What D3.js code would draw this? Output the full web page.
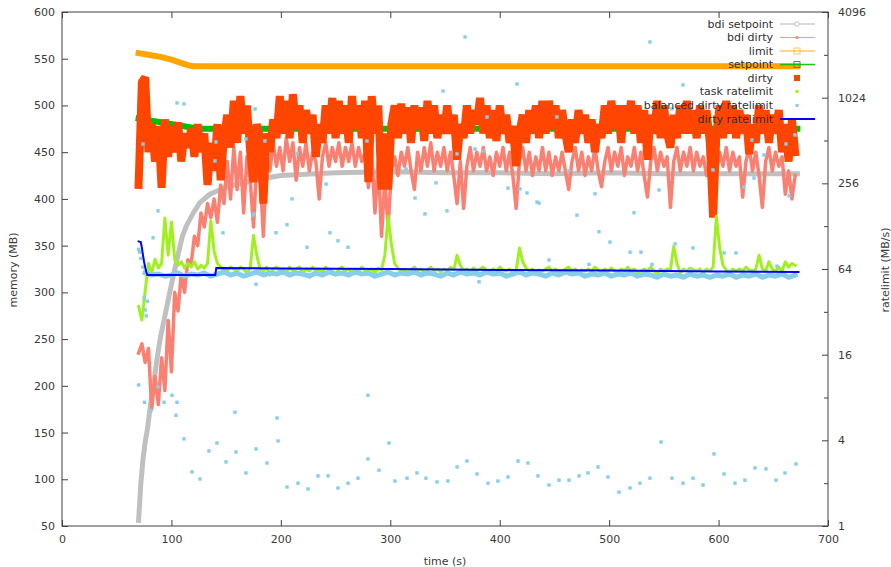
<!DOCTYPE html>
<html><head><meta charset="utf-8">
<script src="https://cdn.jsdelivr.net/npm/d3@7"></script>
<style>body{margin:0;background:#fff} text{font-family:"DejaVu Sans",sans-serif}</style>
</head><body><svg id="c" width="891" height="567"></svg>
<script>
// ---------- tick labels ----------
const xTicks = [0,100,200,300,400,500,600,700];
const yTicks = [50,100,150,200,250,300,350,400,450,500,550,600];
const y2Ticks = [1,4,16,64,256,1024,4096];
const y2Minor = [2,8,32,128,512,2048];
const seriesNames = ["bdi setpoint","bdi dirty","limit","setpoint","dirty","task ratelimit","balanced dirty ratelimit","dirty ratelimit"];

// ---------- sampled series (t = sampleStart + i*sampleStep seconds) ----------
const sampleStart = 70, sampleStep = 3;
const dirty = [
 415,525,530,450,480,440,478,412,485,445,
 478,450,482,440,470,455,475,445,480,450,
 470,415,460,430,480,420,465,490,455,505,
 460,510,470,500,450,418,480,465,395,470,
 450,485,465,510,470,505,465,512,475,500,
 460,495,470,490,445,480,460,500,470,508,
 465,505,470,500,460,510,475,500,465,505,
 418,510,470,500,410,470,410,480,500,465,
 502,470,498,460,500,475,498,462,505,470,
 500,465,490,470,500,470,490,442,480,465,
 500,470,495,480,508,470,500,465,495,462,
 500,470,490,460,478,435,470,490,460,495,
 470,500,465,505,470,505,475,500,465,495,
 470,450,485,460,495,470,490,460,485,450,
 480,465,500,470,505,475,500,460,500,475,
 505,470,500,460,495,442,490,470,505,465,
 500,470,455,490,465,500,470,505,470,495,
 465,500,470,495,460,380,470,500,465,505,
 470,500,465,495,470,490,448,480,460,500,
 470,495,460,490,470,495,450,480,440,485,
 450];
const bdiDirty = [
 235,245,225,240,175,210,180,230,195,270,
 215,300,280,320,300,335,330,360,350,385,
 370,395,380,400,375,415,395,440,400,455,
 410,450,385,445,420,370,440,430,360,445,
 430,460,435,455,430,465,440,460,420,455,
 435,460,430,450,440,400,445,460,435,455,
 440,460,435,455,440,460,435,455,440,450,
 412,450,385,440,360,420,370,430,445,425,
 450,435,455,430,410,450,430,455,435,460,
 430,450,435,455,430,450,425,395,440,390,
 435,455,430,450,435,455,430,445,425,450,
 435,455,430,450,425,390,440,455,430,450,
 425,445,430,455,430,450,425,445,430,450,
 430,410,440,455,430,450,425,445,430,455,
 430,413,440,455,430,450,435,455,425,445,
 435,455,430,450,425,402,440,455,430,450,
 435,445,391,440,455,430,450,435,455,430,
 450,435,445,425,440,385,430,450,435,455,
 430,450,435,445,402,440,455,430,450,425,
 391,440,455,430,450,435,445,405,430,400,
 425];
const taskRatelimit = [
 35,28,45,70,60,75,65,70,146,80,
 137,75,68,72,65,70,66,72,64,68,
 65,70,140,85,70,66,64,62,66,64,
 62,66,64,60,65,110,80,64,62,66,
 58,64,66,62,64,60,66,62,64,66,
 60,64,62,66,62,64,60,66,63,62,
 58,64,66,62,64,60,64,62,66,63,
 62,64,60,65,63,80,150,95,70,65,
 62,64,60,63,66,62,64,60,63,66,
 62,64,61,64,62,66,63,80,68,62,
 64,60,65,62,64,66,62,60,64,62,
 66,63,62,64,60,62,90,72,65,62,
 64,60,63,62,64,66,62,64,60,62,
 64,66,62,64,60,63,62,64,62,66,
 63,60,64,62,65,62,60,64,62,66,
 62,64,60,62,64,62,66,62,58,64,
 62,64,63,92,70,60,64,62,65,63,
 62,64,60,64,62,66,150,90,68,63,
 60,64,62,64,62,66,63,62,64,80,
 64,62,72,64,62,66,62,72,66,70,
 68];
// balanced dirty ratelimit main band (t = bandStart + i*bandStep)
const bandStart = 76, bandStep = 6;
const balancedBand = [
 60,58,59,57,58,60,57,59,58,60,57,59,61,58,60,57,59,61,58,60,
 59,61,58,60,59,57,60,58,61,59,60,58,61,59,60,57,59,61,58,60,
 59,61,58,60,59,57,60,58,61,59,60,58,61,59,60,57,59,61,58,60,
 59,57,60,58,61,59,60,57,59,58,60,57,59,58,60,57,59,58,56,59,
 57,58,56,59,57,58,56,58,57,59,56,58,57,59,56,58,57,59,56,58];
// balanced dirty ratelimit scattered samples
const balT = [70,71,72,74,75,76,77,78,
 70,75.4,81.3,87.7,93.2,100.5,105.1,104.2,111.5,118.8,126.1,134.3,141.6,149.9,158.1,159,168.1,177.3,187.3,196.5,197.4,205.6,
 215.7,224.8,233.9,243.1,252.2,261.4,270.5,279.6,279.6,289.7,298.8,304.3,315.3,324.4,332.6,342.7,352.7,361,370.1,379.2,
 389.3,398.4,407.6,416.7,425.8,435,445,454.2,463.3,472.5,480.7,489.8,498.9,509,519.1,528.2,537.3,547.4,557.4,567.5,
 576.6,585.8,595.8,605,615,624.1,633.3,643.3,652.5,660.7,670.8,
 105.1,111.5,74,140.7,139.8,168.1,176.4,175.5,87.7,83.2,147.1,185.5,214.7,241.3,210.2,205.6,174.5,278.7,415.8,348.2,
 388.4,452.3,361,377.4,384.7,314.4,341.8,463.3,322.6,407.6,418.5,424.9,434.1,487.1,331.7,351.8,470.6,567.5,557.4,630.5,
 641.5,661.6,669.8,594.9,632.4,623.2,664.4,545.6,522.7,368.3,537.3,195.6,244.9,252.2,261.4,223.9,435.9,490.7,500.8,519.1,
 529.1,560.2,576.6,605,615.9,445,481.6,653.4,381.1,177.3,539.2];
const balV = [88,84,76,66,40,33,30,38,
 9.8,7.4,6.5,9.5,7.4,8.3,7.4,6.0,4.1,2.4,2.14,3.37,3.83,2.82,6.3,3.31,2.36,3.48,2.77,5.74,3.96,1.88,
 2.0,1.82,2.25,2.25,1.85,2.0,2.17,8.3,2.96,2.47,3.83,2.07,2.17,2.36,2.17,2.04,2.07,2.6,2.86,2.32,
 2.0,2.07,2.21,2.86,2.77,2.25,1.94,2.1,2.1,2.25,2.36,2.6,2.21,1.73,1.85,2.0,2.17,3.89,2.17,2.0,
 2.17,1.94,3.21,2.32,2.0,2.1,2.56,2.52,2.1,2.36,2.73,
 940,925,484,500,368,525,853,156,164,106,115,508,412,253,199,131,153,508,1278,1140,
 749,749,412,446,432,323,258,313,202,237,234,219,189,216,156,164,153,1259,853,516,
 405,484,560,318,279,241,209,230,159,2735,2522,115,115,101,91,91,186,117,99,84,
 84,96,90,83,83,74,69,67,52,50,69];

// ---------- irregular series ----------
const bdiSetT = [70,72,74,76,78,80,83,87,90,95,99,105,110,114,120,126,135,151,175,200,250,300,350,400,450,500,550,600,650,672];
const bdiSetV = [56,95,121,140,153,172,196,230,252,280,303,335,360,372,385,396,405,413,420,425,428,429,428,428,427,428,427,427,427,427];
const limitT = [70,80,90,100,110,115,120,672];
const limitV = [556,554,552,549,545,543,542,542];
const setpointT = [70,90,110,125,140,672];
const setpointV = [486,482,478,475,475,475];
const dirtyRateT = [70,72,73,74,75,76,77,78,140,141,200,300,400,500,550,600,673];
const dirtyRateV = [100,99,90,80,72,66,61,58,58,65,64.5,64,63,62.5,62,61.5,61];

// ---------- layout ----------
const svg = d3.select("#c");
const L = 62, R = 828, T = 12, B = 526;
const x = d3.scaleLinear().domain([0,700]).range([L,R]);
const y = d3.scaleLinear().domain([50,600]).range([B,T]);
const y2 = d3.scaleLog().base(2).domain([1,4096]).range([B,T]);

const zip = (ts, vs) => vs.map((v,i)=>[ts[i], v]);
const sampled = (start, step, vs) => vs.map((v,i)=>[start + i*step, v]);

svg.append("clipPath").attr("id","clip").append("rect")
  .attr("x",L).attr("y",T).attr("width",R-L).attr("height",B-T);
const g = svg.append("g").attr("clip-path","url(#clip)");

const lineL = d3.line().x(d=>x(d[0])).y(d=>y(d[1]));
const lineR = d3.line().x(d=>x(d[0])).y(d=>y2(d[1]));

function path(data, gen, color, w, join){
  g.append("path").datum(data).attr("d", gen).attr("fill","none")
    .attr("stroke", color).attr("stroke-width", w)
    .attr("stroke-linejoin", join||"round").attr("stroke-linecap","square");
}

const C = {bdiSet:"#c0c0c0", bdiDirty:"#fa8072", limit:"#ffa500", setpoint:"#00c000",
           dirty:"#ff4500", task:"#a0f020", bal:"#87ceeb", rate:"#0000ff"};

path(zip(bdiSetT,bdiSetV), lineL, C.bdiSet, 5);
path(sampled(sampleStart,sampleStep,bdiDirty), lineL, C.bdiDirty, 3.5);
path(zip(limitT,limitV), lineL, C.limit, 6);
path(zip(setpointT,setpointV), lineL, C.setpoint, 6);
path(sampled(sampleStart,sampleStep,dirty), lineL, C.dirty, 8, "bevel");
path(sampled(sampleStart,sampleStep,taskRatelimit), lineR, C.task, 3);
path(sampled(bandStart,bandStep,balancedBand), lineR, C.bal, 5);
g.selectAll("rect.bal").data(zip(balT,balV)).join("rect").attr("class","bal")
  .attr("x",d=>x(d[0])-1.7).attr("y",d=>y2(d[1])-1.7).attr("width",3.4).attr("height",3.4)
  .attr("fill",C.bal);
path(zip(dirtyRateT,dirtyRateV), lineR, C.rate, 2, "miter");

// ---------- axes ----------
const axisColor = "#404040", textColor = "#3a3a3a";
function styleAxis(sel){
  sel.select(".domain").remove();
  sel.selectAll(".tick line").attr("stroke",axisColor);
  sel.selectAll(".tick text").attr("fill",textColor).attr("font-size",11).attr("font-family","DejaVu Sans");
}
svg.append("g").attr("transform",`translate(0,${B})`)
  .call(d3.axisBottom(x).tickValues(xTicks).tickSizeInner(-6).tickSizeOuter(0).tickPadding(9))
  .call(styleAxis);
svg.append("g").attr("transform",`translate(0,${T})`)
  .call(d3.axisTop(x).tickValues(xTicks).tickSizeInner(-6).tickSizeOuter(0).tickFormat(""))
  .call(styleAxis);
svg.append("g").attr("transform",`translate(${L},0)`)
  .call(d3.axisLeft(y).tickValues(yTicks).tickSizeInner(-6).tickSizeOuter(0).tickPadding(7))
  .call(styleAxis);
svg.append("g").attr("transform",`translate(${R},0)`)
  .call(d3.axisRight(y2).tickValues(y2Ticks).tickFormat(d3.format("d")).tickSizeInner(-6).tickSizeOuter(0).tickPadding(10))
  .call(styleAxis);
svg.append("g").attr("transform",`translate(${R},0)`)
  .call(d3.axisRight(y2).tickValues(y2Minor).tickFormat("").tickSizeInner(-4).tickSizeOuter(0))
  .call(styleAxis);
svg.append("rect").attr("x",L).attr("y",T).attr("width",R-L).attr("height",B-T)
  .attr("fill","none").attr("stroke",axisColor).attr("stroke-width",1);

svg.append("text").attr("x",445).attr("y",565).attr("text-anchor","middle")
  .attr("font-size",11).attr("fill",textColor).text("time (s)");
svg.append("text").attr("transform","translate(17,270) rotate(-90)").attr("text-anchor","middle")
  .attr("font-size",11).attr("fill",textColor).text("memory (MB)");
svg.append("text").attr("transform","translate(889,270) rotate(-90)").attr("text-anchor","middle")
  .attr("font-size",11).attr("fill",textColor).text("ratelimit (MB/s)");

// ---------- legend ----------
const legY = [24,37.5,51,64.5,78,91.5,105.5,119];
const lg = svg.append("g");
seriesNames.forEach((name,i)=>{
  const yy = legY[i];
  lg.append("text").attr("x",773).attr("y",yy).attr("dy","0.35em").attr("text-anchor","end")
    .attr("font-size",11).attr("fill","#303030").text(name);
});
function legLine(i,color,w,op){
  lg.append("line").attr("x1",780).attr("x2",815).attr("y1",legY[i]).attr("y2",legY[i])
    .attr("stroke",color).attr("stroke-width",w).attr("stroke-opacity",op);
}
legLine(0,C.bdiSet,1.5,0.8);
lg.append("circle").attr("cx",797).attr("cy",legY[0]).attr("r",2.2).attr("fill","#fff").attr("stroke",C.bdiSet);
legLine(1,C.bdiDirty,1.2,0.8);
lg.append("circle").attr("cx",797).attr("cy",legY[1]).attr("r",1.6).attr("fill",C.bdiDirty);
legLine(2,C.limit,2,0.45);
lg.append("rect").attr("x",794).attr("y",legY[2]-3).attr("width",6).attr("height",6).attr("fill","none").attr("stroke",C.limit).attr("stroke-opacity",0.6);
legLine(3,C.setpoint,1.3,0.9);
lg.append("rect").attr("x",794).attr("y",legY[3]-3).attr("width",6).attr("height",6).attr("fill","none").attr("stroke","#4a9a10");
lg.append("rect").attr("x",794).attr("y",legY[4]-3).attr("width",6).attr("height",6).attr("fill",C.dirty);
lg.append("rect").attr("x",795.5).attr("y",legY[5]-1.5).attr("width",3).attr("height",3).attr("fill",C.task);
lg.append("rect").attr("x",795.5).attr("y",legY[6]-1.5).attr("width",3).attr("height",3).attr("fill",C.bal);
legLine(7,C.rate,2,1);
</script></body></html>
